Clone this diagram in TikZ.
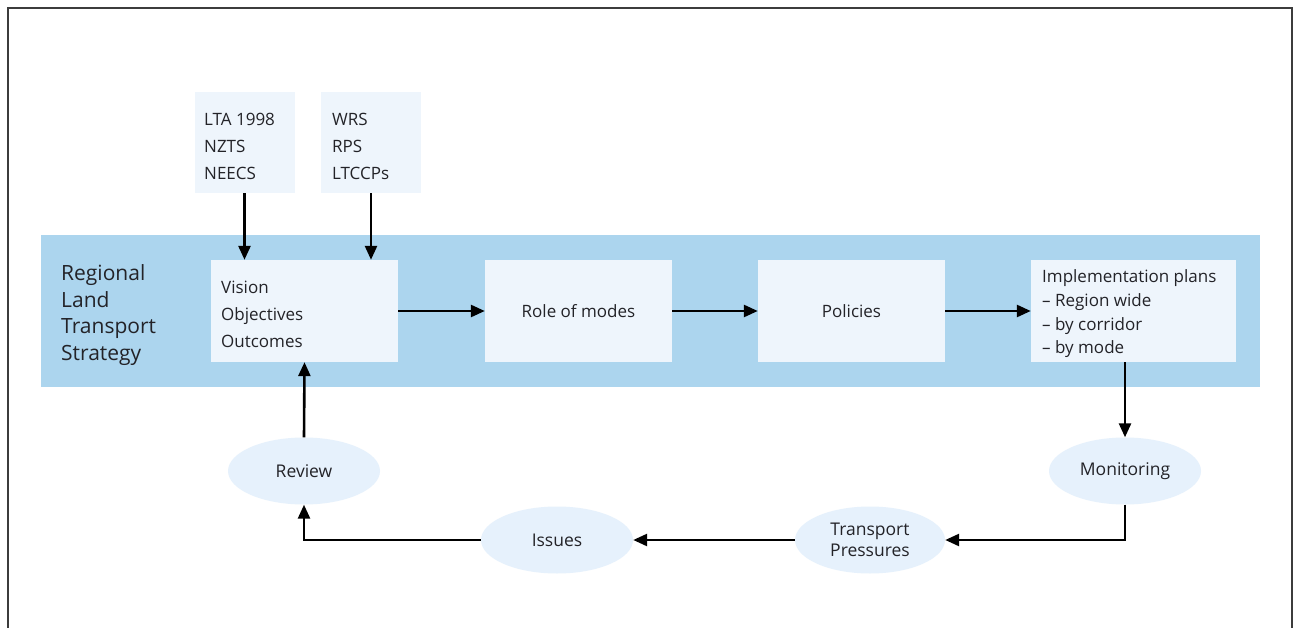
\documentclass[tikz,border=0pt]{standalone}
\usepackage{fontspec}
\setmainfont{Open Sans}
\usetikzlibrary{arrows.meta,shapes.geometric}
\definecolor{band}{RGB}{172,213,238}
\definecolor{boxfill}{RGB}{238,245,252}
\definecolor{ellfill}{RGB}{230,241,252}
\definecolor{txt}{RGB}{35,35,40}
\definecolor{framec}{RGB}{60,60,60}
\tikzset{
  srcbox/.style={fill=boxfill, draw=none, minimum width=100pt, minimum height=101pt, inner sep=0pt},
  stagebox/.style={fill=boxfill, draw=none, minimum width=187pt, minimum height=102pt, inner sep=0pt},
  stagetext/.style={font=\fontsize{17}{27}\selectfont, text=txt},
  phase/.style={ellipse, fill=ellfill, draw=none, minimum width=152pt, minimum height=67pt, inner sep=0pt, font=\fontsize{17.5}{20.5}\selectfont, text=txt, align=center},
  flow/.style={line width=2.6pt, -{Triangle[length=14pt,width=12pt]}},
}
\begin{document}
\begin{tikzpicture}[x=1pt,y=-1pt]
\useasboundingbox (0,0) rectangle (1298,628);
\fill[white] (0,0) rectangle (1298,628);
% outer frame (open at the bottom)
\draw[framec, line width=2.2pt] (8,628) -- (8,8) -- (1292,8) -- (1292,628);
% strategy band
\node[fill=band, minimum width=1219pt, minimum height=152pt, inner sep=0pt] (band) at (650.5,311) {};
\node[anchor=west, inner sep=0pt, align=left, text=txt, font=\fontsize{21}{26.5}\selectfont] (title) at (61,315) {Regional\\Land\\Transport\\Strategy};
% source boxes
\node[srcbox] (lta) at (244.5,142.5) {};
\node[anchor=west, inner sep=0pt, align=left, stagetext] (ltat) at (204,146) {LTA 1998\\NZTS\\NEECS};
\node[srcbox] (wrs) at (371,142.5) {};
\node[anchor=west, inner sep=0pt, align=left, stagetext] (wrst) at (332,146) {WRS\\RPS\\LTCCPs};
% stage boxes
\node[stagebox] (vis) at (304.5,311) {};
\node[anchor=west, inner sep=0pt, align=left, stagetext] (vist) at (221,314) {Vision\\Objectives\\Outcomes};
\node[stagebox, stagetext] (role) at (578.5,311) {Role of modes};
\node[stagebox, stagetext] (pol) at (851.5,311) {Policies};
\node[stagebox, minimum width=205pt] (imp) at (1133.5,311) {};
\node[anchor=west, inner sep=0pt, align=left, font=\fontsize{17}{23.7}\selectfont, text=txt] (impt) at (1042,314) {Implementation plans\\– Region wide\\– by corridor\\– by mode};
% cycle ellipses
\node[phase] (mon) at (1125,471) {Monitoring};
\node[phase, minimum width=150pt] (tp) at (870,540) {Transport\\Pressures};
\node[phase] (iss) at (557,540) {Issues};
\node[phase] (rev) at (304,471) {Review};
% connectors
\draw[flow] (lta.south) -- (lta |- vis.north);
\draw[flow] (wrs.south) -- (wrs |- vis.north);
\draw[flow] (vis.east) -- (role.west);
\draw[flow] (role.east) -- (pol.west);
\draw[flow] (pol.east) -- (imp.west);
\draw[flow] (imp.south -| mon) -- (mon.north);
\draw[flow] (mon.south) -- (mon |- tp) -- (tp.east);
\draw[flow] (tp.west) -- (iss.east);
\draw[flow] (iss.west) -- (rev |- iss) -- (rev.south);
\draw[flow] (rev.north) -- (vis.south);
\end{tikzpicture}
\end{document}
